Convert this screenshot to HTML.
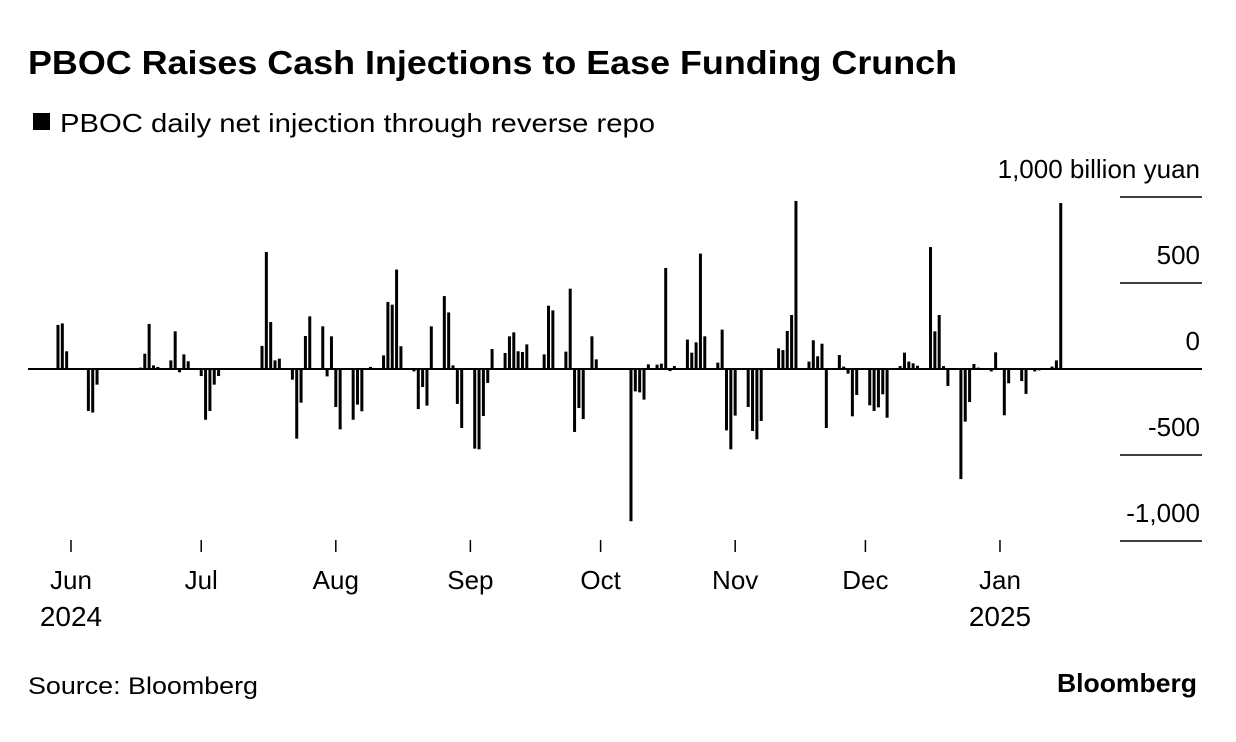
<!DOCTYPE html>
<html><head><meta charset="utf-8"><style>
body{margin:0;background:#fff;width:1236px;height:742px;overflow:hidden;font-family:"Liberation Sans",sans-serif;color:#000}
svg{position:absolute;left:0;top:0}
</style></head><body>
<svg width="1236" height="742">
<text x="28" y="74" font-size="33" font-weight="bold" textLength="929" lengthAdjust="spacingAndGlyphs">PBOC Raises Cash Injections to Ease Funding Crunch</text>
<rect x="33" y="113" width="17" height="17" fill="#000"/>
<text x="60" y="132" font-size="26" textLength="595" lengthAdjust="spacingAndGlyphs">PBOC daily net injection through reverse repo</text>
<g id="axis"></g><g id="bars"></g>
<text x="28" y="694" font-size="24" textLength="230" lengthAdjust="spacingAndGlyphs">Source: Bloomberg</text>
<text x="1197" y="692" font-size="26" font-weight="bold" text-anchor="end" textLength="140" lengthAdjust="spacingAndGlyphs">Bloomberg</text>
</svg>
<script>
const days=[-3,-2,-1,4,5,6,16,17,18,19,20,23,24,25,26,27,30,31,32,33,34,44,45,46,47,48,51,52,53,54,55,58,59,60,61,62,65,66,67,69,72,73,74,75,76,79,80,81,82,83,86,87,88,89,90,93,94,95,96,97,100,101,102,103,104,105,109,110,111,114,115,116,117,118,120,121,129,130,131,132,133,135,136,137,138,139,142,143,144,145,146,149,150,151,152,153,156,157,158,159,163,164,165,166,167,170,171,172,173,174,177,178,179,180,181,184,185,186,187,188,191,192,193,194,195,198,199,200,201,202,205,206,207,208,209,212,213,215,216,219,220,222,223,226,227,228];
const values=[256,265,103,-244,-253,-91,8,89,262,21,12,50,219,-19,85,45,-41,-295,-244,-91,-41,134,680,273,50,60,-62,-405,-196,192,306,248,-43,190,-221,-351,-295,-207,-246,12,79,390,374,578,132,-14,-233,-105,-213,248,424,329,21,-203,-343,-463,-467,-273,-81,116,93,190,213,103,99,143,85,368,341,101,467,-366,-227,-291,190,56,-885,-130,-136,-178,27,25,31,587,-12,17,171,95,155,671,190,37,229,-357,-467,-271,-221,-360,-409,-302,120,110,221,314,977,43,167,74,147,-343,81,14,-27,-275,-151,-211,-244,-223,-147,-283,17,95,43,33,19,709,219,314,17,-99,-640,-306,-192,29,8,-14,97,-269,-83,-70,-145,-14,-8,14,50,965];
const yTicks=[1000,500,0,-500,-1000];
const yTickLabels=["1,000 billion yuan","500","0","-500","-1,000"];
const monthDays=[0,30,61,92,122,153,183,214];
const monthLabels=["Jun","Jul","Aug","Sep","Oct","Nov","Dec","Jan"];
const yearLabels={0:"2024",214:"2025"};
const NS="http://www.w3.org/2000/svg";
const xs=d=>71+d*4.341;
const ys=v=>369-v*0.172;
const ax=document.getElementById('axis'),bg=document.getElementById('bars');
function mk(t,a,p){const e=document.createElementNS(NS,t);for(const k in a)e.setAttribute(k,a[k]);p.appendChild(e);return e;}
yTicks.forEach((v,i)=>{
  const l=mk('line',{x1:1120,x2:1202,y1:ys(v),y2:ys(v),stroke:'#000','stroke-width':1.5},ax);
  
  
  const t=mk('text',{x:1200,y:ys(v)-19,'font-size':26,'text-anchor':'end'},ax);
  t.textContent=yTickLabels[i];
  
  
});
monthDays.forEach((d,i)=>{
  const l=mk('line',{x1:xs(d),x2:xs(d),y1:540,y2:552,stroke:'#000','stroke-width':1.5},ax);
  
  
  const t=mk('text',{x:xs(d),y:589,'font-size':26,'text-anchor':'middle'},ax);
  t.textContent=monthLabels[i];
  
  
  if(yearLabels[d]){
    const y=mk('text',{x:xs(d),y:626,'font-size':28,'text-anchor':'middle'},ax);
    y.textContent=yearLabels[d];
    
    
  }
});
days.forEach((d,i)=>{
  const v=values[i],y0=ys(0),y1=ys(v);
  const r=mk('rect',{x:xs(d)-1.5,y:Math.min(y0,y1),width:3,height:Math.max(1,Math.abs(y1-y0)),fill:'#000'},bg);
  
  
});
const z=mk('line',{x1:28,x2:1202,y1:ys(0),y2:ys(0),stroke:'#000','stroke-width':2},ax);


</script>
</body></html>
